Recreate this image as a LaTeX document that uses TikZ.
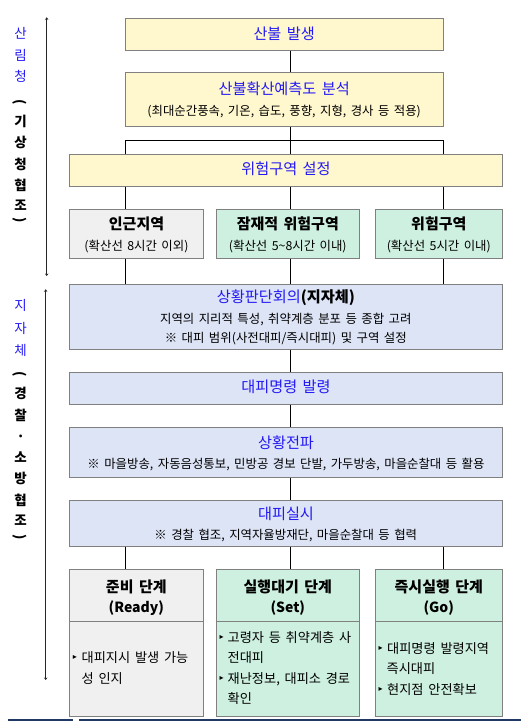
\documentclass[tikz,border=0pt]{standalone}
\usepackage{fontspec}
\setmainfont{Noto Sans CJK KR}[WordSpace=1.6]
\newfontfamily\djv{DejaVu Sans}
\usetikzlibrary{arrows.meta}
\definecolor{bxyel}{RGB}{255,247,206}
\definecolor{bxgray}{RGB}{240,240,240}
\definecolor{bxmint}{RGB}{206,240,224}
\definecolor{bxlav}{RGB}{221,228,246}
\definecolor{bxline}{RGB}{128,128,128}
\definecolor{txblue}{RGB}{35,25,245}
\definecolor{navyline}{RGB}{31,56,100}
\begin{document}
\begin{tikzpicture}[x=1pt,y=-1pt,
  bx/.style={draw=bxline, line width=1pt, rectangle, inner sep=0pt},
  conn/.style={draw=black, line width=1pt},
  side/.style={draw=black!85, line width=1.2pt, {Stealth[length=2.5pt,width=3.5pt]}-{Stealth[length=2.5pt,width=3.5pt]}},
  t14/.style={inner sep=0pt, font=\fontsize{15.2}{17}\selectfont, text height=12.6pt, text depth=1.1pt},
  t12/.style={inner sep=0pt, font=\fontsize{12.4}{14}\selectfont, text height=10.3pt, text depth=0.9pt},
  t13/.style={inner sep=0pt, anchor=west, font=\fontsize{13.2}{15}\selectfont, text height=11pt, text depth=0.9pt},
  bt/.style={t14, font=\fontsize{15}{17}\selectfont\bfseries},
  btl/.style={t14, font=\fontsize{14}{16}\selectfont\bfseries},
  blu/.style={text=txblue},
  bul/.style={inner sep=0pt, font=\djv\fontsize{8}{9}\selectfont},
  lb/.style={inner sep=0pt, text=txblue, font=\fontsize{13.5}{15}\selectfont, text height=11.2pt, text depth=1pt},
  lk/.style={inner sep=0pt, text=black, font=\fontsize{13.5}{15}\selectfont\bfseries, text height=11.2pt, text depth=1pt},
]
\useasboundingbox (0,0) rectangle (521,721);

% ---------- boxes ----------
\node[bx, fill=bxyel, minimum width=318.3pt, minimum height=32pt] (fire) at (284.15,34.3) {};
\node[bx, fill=bxyel, minimum width=318.3pt, minimum height=54pt] (predict) at (284.15,99.3) {};
\node[bx, fill=bxyel, minimum width=433pt, minimum height=32pt] (zone) at (285.8,170.3) {};
\node[bx, fill=bxgray, minimum width=134pt, minimum height=49pt] (near) at (136.3,233.8) {};
\node[bx, fill=bxmint, minimum width=143pt, minimum height=49pt] (pot) at (287.8,233.8) {};
\node[bx, fill=bxmint, minimum width=127pt, minimum height=49pt] (danger) at (438.8,233.8) {};
\node[bx, fill=bxlav, minimum width=433pt, minimum height=65pt] (judge) at (285.8,316.8) {};
\node[bx, fill=bxlav, minimum width=433pt, minimum height=32pt] (order) at (285.8,388.3) {};
\node[bx, fill=bxlav, minimum width=433pt, minimum height=50pt] (spread) at (285.8,452.3) {};
\node[bx, fill=bxlav, minimum width=433pt, minimum height=46pt] (evac) at (285.8,523.3) {};
\node[bx, fill=bxgray, minimum width=134pt, minimum height=146.7pt] (ready) at (136.3,642.65) {};
\node[bx, fill=bxmint, minimum width=143pt, minimum height=146.7pt] (set) at (287.8,642.65) {};
\node[bx, fill=bxmint, minimum width=127pt, minimum height=146.7pt] (go) at (438.8,642.65) {};

% dividers in bottom boxes
\coordinate (dv) at (0,621);
\draw[draw=bxline, line width=1pt] (ready.west |- dv) -- (ready.east |- dv);
\draw[draw=bxline, line width=1pt] (set.west |- dv) -- (set.east |- dv);
\draw[draw=bxline, line width=1pt] (go.west |- dv) -- (go.east |- dv);

% ---------- connectors ----------
\coordinate (cL) at (125.3,0);
\coordinate (cM) at (290.3,0);
\coordinate (cR) at (443.3,0);
\coordinate (br) at (290.3,140.3);
\draw[conn] (fire.south -| cM) -- (predict.north -| cM);
\draw[conn] (predict.south -| cM) -- (zone.north -| cM);
\draw[conn] (br -| cL) -- (br -| cR);
\draw[conn] (br -| cL) -- (zone.north -| cL);
\draw[conn] (br -| cR) -- (zone.north -| cR);
\draw[conn] (zone.south -| cL) -- (near.north -| cL);
\draw[conn] (zone.south -| cM) -- (pot.north -| cM);
\draw[conn] (zone.south -| cR) -- (danger.north -| cR);
\draw[conn] (near.south -| cL) -- (judge.north -| cL);
\draw[conn] (pot.south -| cM) -- (judge.north -| cM);
\draw[conn] (danger.south -| cR) -- (judge.north -| cR);
\draw[conn] (judge.south -| cM) -- (order.north -| cM);
\draw[conn] (order.south -| cM) -- (spread.north -| cM);
\draw[conn] (spread.south -| cM) -- (evac.north -| cM);
\draw[conn] (evac.south -| cL) -- (ready.north -| cL);
\draw[conn] (evac.south -| cM) -- (set.north -| cM);
\draw[conn] (evac.south -| cR) -- (go.north -| cR);

% ---------- box texts ----------
\node[t14, blu] (tFire) at (284.2,34) {산불 발생};
\node[t14, blu] (tPred) at (284.2,89) {산불확산예측도 분석};
\node[t12] (tPredS) at (284.2,111) {(최대순간풍속, 기온, 습도, 풍향, 지형, 경사 등 적용)};
\node[t14, blu] (tZone) at (286,169) {위험구역 설정};
\node[bt] (tNear) at (136.5,224) {인근지역};
\node[t12] (tNearS) at (136.5,245.7) {(확산선 8시간 이외)};
\node[bt] (tPot) at (287.8,224) {잠재적 위험구역};
\node[t12] (tPotS) at (287.8,245.7) {(확산선 5\textasciitilde8시간 이내)};
\node[bt] (tDanger) at (438.8,224) {위험구역};
\node[t12] (tDangerS) at (438.8,245.7) {(확산선 5시간 이내)};
\node[t14] (tJudge) at (286,296.7) {\textcolor{txblue}{상황판단회의}\textbf{(지자체)}};
\node[t12] (tJudge2) at (285.8,318.3) {지역의 지리적 특성, 취약계층 분포 등 종합 고려};
\node[t12] (tJudge3) at (285.8,337.3) {※ 대피 범위(사전대피/즉시대피) 및 구역 설정};
\node[t14, blu] (tOrder) at (286,386.7) {대피명령 발령};
\node[t14, blu] (tSpread) at (286,442.7) {상황전파};
\node[t12] (tSpread2) at (286,463.3) {※ 마을방송, 자동음성통보, 민방공 경보 단발, 가두방송, 마을순찰대 등 활용};
\node[t14, blu] (tEvac) at (286,514) {대피실시};
\node[t12] (tEvac2) at (285.8,534.3) {※ 경찰 협조, 지역자율방재단, 마을순찰대 등 협력};

\node[bt] (tReady) at (136.3,586.7) {준비 단계};
\node[btl] (tReady2) at (136.3,606.7) {(Ready)};
\node[bt] (tSet) at (287.8,586.7) {실행대기 단계};
\node[btl] (tSet2) at (287.8,606.7) {(Set)};
\node[bt] (tGo) at (438.8,586.7) {즉시실행 단계};
\node[btl] (tGo2) at (438.8,606.7) {(Go)};

% bullets
\node[bul] (bR1) at (75,657.3) {▸};
\node[t13] (tR1) at (81.5,657.3) {대피지시 발생 가능};
\node[t13] (tR2) at (81.5,678.3) {성 인지};
\node[bul] (bS1) at (221.7,637.3) {▸};
\node[t13] (tS1) at (227.5,637.3) {고령자 등 취약계층 사};
\node[t13] (tS2) at (227.5,657.3) {전대피};
\node[bul] (bS2) at (221.7,678.3) {▸};
\node[t13] (tS3) at (227.5,678.3) {재난정보, 대피소 경로};
\node[t13] (tS4) at (227.5,698.3) {확인};
\node[bul] (bG1) at (380.7,648.3) {▸};
\node[t13] (tG1) at (387,648.3) {대피명령 발령지역};
\node[t13] (tG2) at (386.5,668.3) {즉시대피};
\node[bul] (bG2) at (380.7,689.3) {▸};
\node[t13] (tG3) at (387,689.3) {현지점 안전확보};

% ---------- left column ----------
\coordinate (a1t) at (46.7,17.3);
\coordinate (a1b) at (46.7,276);
\coordinate (a2t) at (45.7,289.3);
\coordinate (a2b) at (45.7,680);
\draw[side] (a1t) -- (a1b);
\draw[side] (a2t) -- (a2b);

\node[lb] (la1) at (20.7,33.3) {산};
\node[lb] (la2) at (20.7,55) {림};
\node[lb] (la3) at (20.7,76.7) {청};
\node[lk, rotate=-90] (la4) at (20.7,102) {(};
\node[lk] (la5) at (20.7,121.3) {기};
\node[lk] (la6) at (20.7,142.5) {상};
\node[lk] (la7) at (20.7,164) {청};
\node[lk] (la8) at (20.7,185.3) {협};
\node[lk] (la9) at (20.7,205.3) {조};
\node[lk, rotate=-90] (la10) at (20.7,220.5) {)};

\node[lb] (lb1) at (20.7,305) {지};
\node[lb] (lb2) at (20.7,328) {자};
\node[lb] (lb3) at (20.7,350) {체};
\node[lk, rotate=-90] (lb4) at (20.7,374) {(};
\node[lk] (lb5) at (20.7,393) {경};
\node[lk] (lb6) at (20.7,415) {찰};
\node[lk] (lb7) at (20.7,436.7) {·};
\node[lk] (lb8) at (20.7,457) {소};
\node[lk] (lb9) at (20.7,478) {방};
\node[lk] (lb10) at (20.7,500) {협};
\node[lk] (lb11) at (20.7,520) {조};
\node[lk, rotate=-90] (lb12) at (20.7,536.7) {)};

% ---------- bottom rule ----------
\coordinate (r1) at (8,720);
\coordinate (r2) at (72.7,720);
\coordinate (r3) at (79,720);
\coordinate (r4) at (521,720);
\draw[draw=navyline, line width=1.3pt] (r1) -- (r2);
\draw[draw=navyline, line width=1.3pt] (r3) -- (r4);
\end{tikzpicture}
\end{document}
